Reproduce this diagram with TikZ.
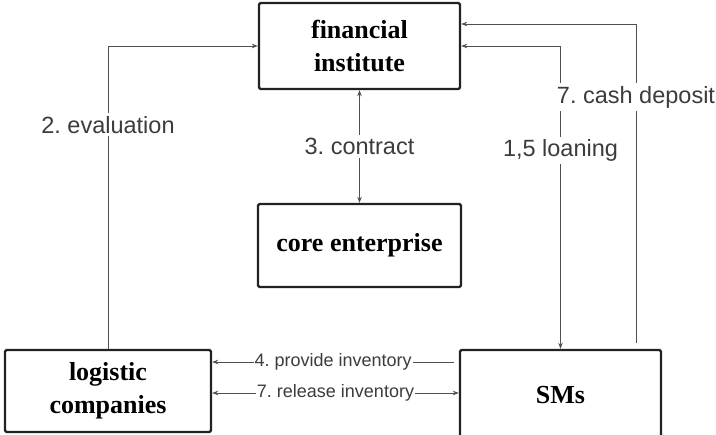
\documentclass[tikz,border=0pt]{standalone}
\usepackage{fontspec}
\setmainfont{Liberation Serif}
\setsansfont{Liberation Sans}
\usetikzlibrary{arrows.meta,calc}
\definecolor{linec}{HTML}{505050}
\definecolor{labc}{HTML}{3C3C3C}
\definecolor{boxc}{HTML}{222222}
\frenchspacing
\tikzset{
  box/.style={draw=boxc,line width=2.4pt,rounded corners=1.5pt,align=center,
    font=\fontsize{26}{33}\selectfont\bfseries,inner sep=0pt},
  conn/.style={draw=linec,line width=0.8pt},
  arr/.style={conn,-{Stealth[length=6pt,width=4.5pt]}},
  arrb/.style={conn,{Stealth[length=6pt,width=4.5pt]}-{Stealth[length=6pt,width=4.5pt]}},
  lbl/.style={fill=white,text=labc,inner sep=3pt,font=\sffamily\fontsize{23.5}{25}\selectfont},
  slbl/.style={fill=white,text=labc,inner sep=1pt,font=\sffamily\fontsize{18}{20}\selectfont}
}
\begin{document}
\begin{tikzpicture}[x=1pt,y=-1pt]
\path[fill=white,use as bounding box] (0,0) rectangle (716,435);
\node[box,minimum width=201pt,minimum height=86pt] (fin) at (359.5,46) {financial\\institute};
\node[box,minimum width=203pt,minimum height=83pt] (core) at (359.5,245.5) {core enterprise};
\node[box,minimum width=206pt,minimum height=82pt] (log) at (108,391) {logistic\\companies};
\node[box,minimum width=201pt,minimum height=90pt] (sms) at (560.5,395) {SMs};
\coordinate (cd) at (636,343);
\coordinate (pv) at (454,362);
% evaluation
\draw[arr] (log.north) -- node[lbl,pos=0.74]{2. evaluation} (log.north |- fin.west) -- (fin.west);
% contract
\draw[arrb] (fin.south) -- node[lbl]{3. contract} (core.north);
% loaning
\draw[arrb] (sms.north) -- node[lbl,pos=0.655]{1,5 loaning} (sms.north |- fin.east) -- (fin.east);
% cash deposit
\draw[arr] (cd) -- node[lbl,pos=0.77]{7. cash deposit} (cd |- 0,24) -- (fin.east |- 0,24);
% provide inventory
\draw[arr] (pv) -- node[slbl]{4. provide inventory} (log.east |- pv);
% release inventory
\draw[arrb] (log.east |- 0,393) -- node[slbl]{7. release inventory} (sms.west |- 0,393);
\end{tikzpicture}
\end{document}
